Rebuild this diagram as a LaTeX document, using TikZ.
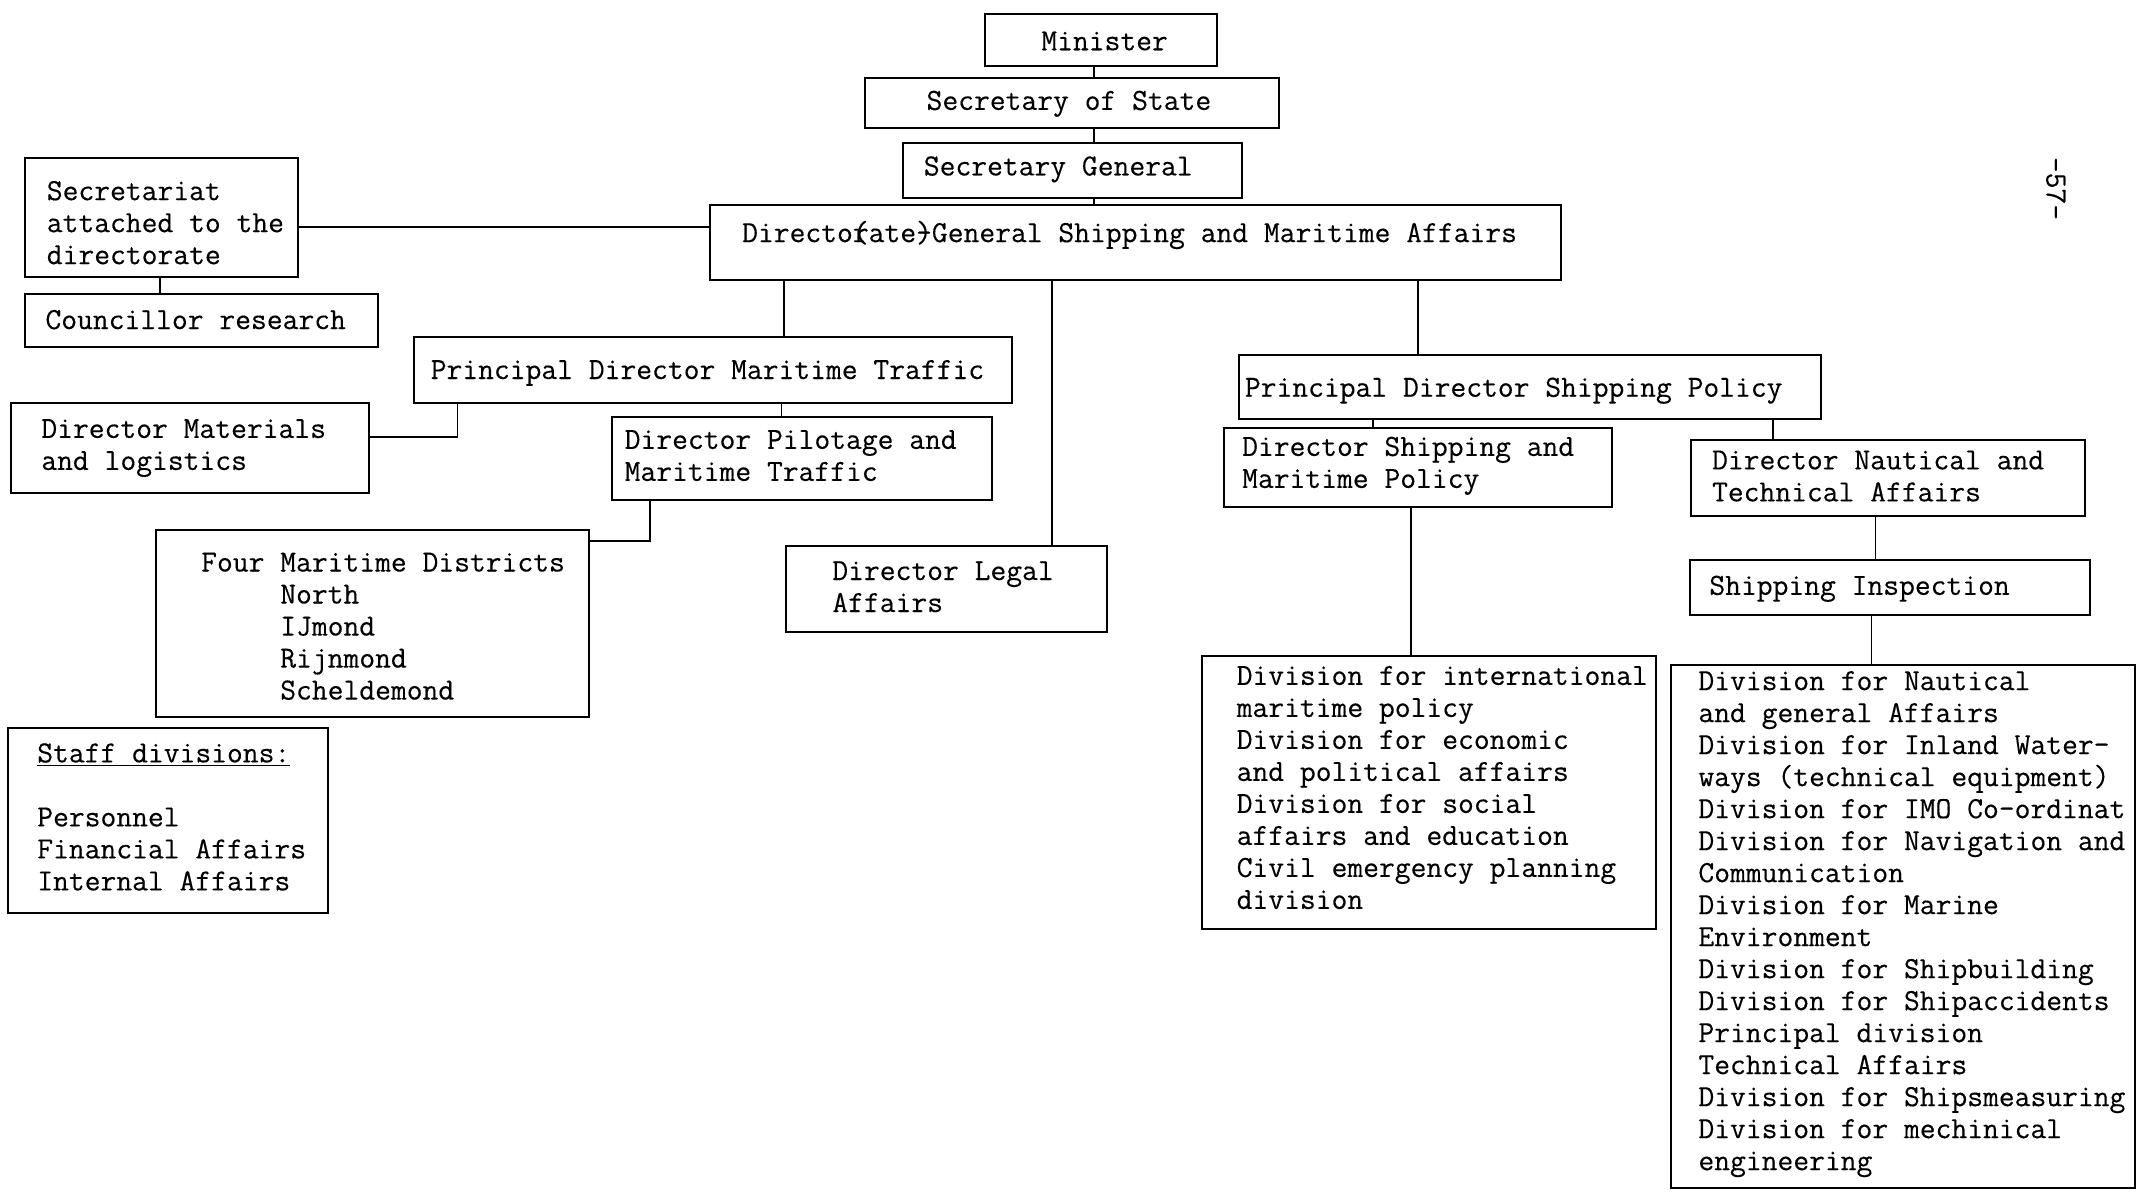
\documentclass[tikz,border=0pt]{standalone}
\usepackage{fontspec}
\setmonofont[FakeBold=0.3]{Latin Modern Mono}
\usetikzlibrary{fit}
\begin{document}
\begin{tikzpicture}[x=0.683pt,y=-0.683pt,
  box/.style={draw, line width=1pt, inner sep=0pt},
  txt/.style={font=\ttfamily\fontsize{15.35pt}{16pt}\selectfont, inner sep=0pt, align=left, anchor=west},
  conn/.style={line width=0.8pt}]
\useasboundingbox (0,0) rectangle (1568,875);

% boxes
\node[box, fit={(721,10) (891,48)}] (min) {};
\node[box, fit={(633,57) (936,94)}] (sos) {};
\node[box, fit={(661,105) (909,145)}] (sg) {};
\node[box, fit={(520,150) (1143,205)}] (dg) {};
\node[box, fit={(18,116) (218,203)}] (sec) {};
\node[box, fit={(18,215) (277,254)}] (cr) {};
\node[box, fit={(303,247) (741,295)}] (pdmt) {};
\node[box, fit={(8,295) (270,361)}] (mat) {};
\node[box, fit={(448,305) (726,366)}] (pil) {};
\node[box, fit={(114,388) (431,525)}] (four) {};
\node[box, fit={(575,400) (810,463)}] (legal) {};
\node[box, fit={(6,533) (240,668)}] (staff) {};
\node[box, fit={(907,260) (1333,307)}] (pdsp) {};
\node[box, fit={(896,313) (1180,371)}] (dsmp) {};
\node[box, fit={(1238,322) (1526,378)}] (naut) {};
\node[box, fit={(1237,410) (1530,450)}] (si) {};
\node[box, fit={(880,480) (1212,680)}] (divint) {};
\node[box, fit={(1223,487) (1563,870)}] (divnt) {};

% texts
\node[txt] (mint) at (762,30) {Minister};
\node[txt] (sost) at (678,76) {Secretary of State};
\node[txt] (sgt) at (676,124) {Secretary General};
\node[txt] (dgt) at (543,172) {Director\llap{(}ate\rlap{)}-General Shipping and Maritime Affairs};
\node[txt] (sect) at (34,163) {Secretariat\\attached to the\\directorate};
\node[txt] (crt) at (33,234) {Councillor research};
\node[txt] (pdmtt) at (315,273) {Principal Director Maritime Traffic};
\node[txt] (matt) at (30,328) {Director Materials\\and logistics};
\node[txt] (pilt) at (457,333.5) {Director Pilotage and\\Maritime Traffic};
\node[txt] (fourt) at (147,458.5) {Four Maritime Districts\\\hphantom{Four }North\\\hphantom{Four }IJmond\\\hphantom{Four }Rijnmond\\\hphantom{Four }Scheldemond};
\node[txt] (legalt) at (609,429.5) {Director Legal\\Affairs};
\node[txt] (stafft) at (27,598) {\underline{Staff divisions:}\\[16pt]Personnel\\Financial Affairs\\Internal Affairs};
\node[txt] (pdspt) at (911,286) {Principal Director Shipping Policy};
\node[txt] (dsmpt) at (909,341) {Director Shipping and\\Maritime Policy};
\node[txt] (nautt) at (1253,348.5) {Director Nautical and\\Technical Affairs};
\node[txt] (sit) at (1251,431) {Shipping Inspection};
\node[txt] (divintt) at (905,576.5) {Division for international\\maritime policy\\Division for economic\\and political affairs\\Division for social\\affairs and education\\Civil emergency planning\\division};
\node[txt] (divntt) at (1243,676.5) {Division for Nautical\\and general Affairs\\Division for Inland Water-\\ways (technical equipment)\\Division for IMO Co-ordinat\\Division for Navigation and\\Communication\\Division for Marine\\Environment\\Division for Shipbuilding\\Division for Shipaccidents\\Principal division\\Technical Affairs\\Division for Shipsmeasuring\\Division for mechinical\\engineering};
\node[txt, anchor=center, rotate=-90] (page) at (1505,138) {-57-};

% connectors
\draw[conn] (801,0 |- min.south) -- (801,0 |- sos.north);
\draw[conn] (801,0 |- sos.south) -- (801,0 |- sg.north);
\draw[conn] (801,0 |- sg.south) -- (801,0 |- dg.north);
\draw[conn] (sec.east |- 0,166) -- (dg.west |- 0,166);
\draw[conn] (117,0 |- sec.south) -- (117,0 |- cr.north);
\draw[conn] (574,0 |- dg.south) -- (574,0 |- pdmt.north);
\draw[conn] (770,0 |- dg.south) -- (770,0 |- legal.north);
\draw[conn] (1038,0 |- dg.south) -- (1038,0 |- pdsp.north);
\draw[conn] (335,0 |- pdmt.south) |- (mat.east |- 0,320);
\draw[conn] (572,0 |- pdmt.south) -- (572,0 |- pil.north);
\draw[conn] (476,0 |- pil.south) |- (four.east |- 0,396);
\draw[conn] (1005,0 |- pdsp.south) -- (1005,0 |- dsmp.north);
\draw[conn] (1298,0 |- pdsp.south) -- (1298,0 |- naut.north);
\draw[conn] (1033,0 |- dsmp.south) -- (1033,0 |- divint.north);
\draw[conn] (1373,0 |- naut.south) -- (1373,0 |- si.north);
\draw[conn] (1370,0 |- si.south) -- (1370,0 |- divnt.north);
\end{tikzpicture}
\end{document}
